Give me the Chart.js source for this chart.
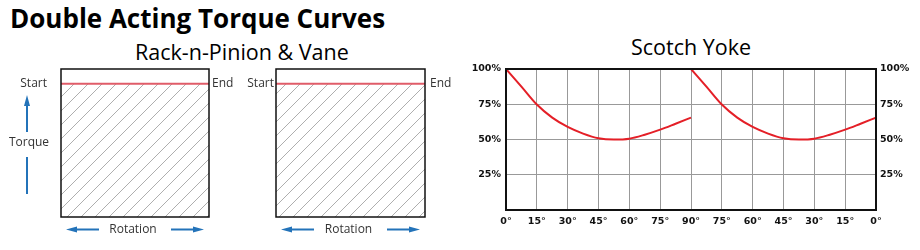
<!DOCTYPE html>
<html lang="en">
<head>
<meta charset="UTF-8">
<title>Double Acting Torque Curves</title>
<script src="https://cdn.jsdelivr.net/npm/chart.js"></script>
<style>
  body { margin: 0; width: 920px; height: 250px; position: relative; overflow: hidden; background: #fff; font-family: 'Open Sans', sans-serif; }
  .txt { position: absolute; white-space: nowrap; color: #000; line-height: 1; }
  canvas { position: absolute; }
</style>
</head>
<body>
<div class="txt" style="left:10px; top:5px; font-size:26px; font-weight:bold;">Double Acting Torque Curves</div>
<div class="txt" style="left:135px; top:41px; font-size:21.5px;">Rack-n-Pinion &amp; Vane</div>
<div class="txt" style="left:631px; top:36px; font-size:21.5px;">Scotch Yoke</div>

<canvas id="rack1" width="240" height="190" style="left:0; top:60px;"></canvas>
<canvas id="rack2" width="220" height="190" style="left:240px; top:60px;"></canvas>
<canvas id="yoke" width="460" height="220" style="left:460px; top:30px;"></canvas>

<script>
// Rack-n-Pinion & Vane: constant torque over the whole stroke
var rackRotation = [0, 100];
var rackTorque = [90, 90];
var startLabel = 'Start';
var endLabel = 'End';
var torqueLabel = 'Torque';
var rotationLabel = 'Rotation';

// Scotch Yoke: two strokes, torque in % of max
var strokeOneDeg = [0, 7.5, 15, 22.5, 30, 37.5, 45, 52.5, 60, 67.5, 75, 82.5, 90];
var strokeOneTorque = [100, 87.5, 74.8, 65.5, 58.9, 54.2, 50.9, 50, 50.6, 53.4, 57, 61.2, 65.5];
var strokeTwoDeg = [90, 97.5, 105, 112.5, 120, 127.5, 135, 142.5, 150, 157.5, 165, 172.5, 180];
var strokeTwoTorque = [100, 87.5, 74.8, 65.5, 58.9, 54.2, 50.9, 50, 50.6, 53.4, 57, 61.2, 65.5];
var degreeLabels = ['0°', '15°', '30°', '45°', '60°', '75°', '90°', '75°', '60°', '45°', '30°', '15°', '0°'];
var percentLabels = ['', '25%', '50%', '75%', '100%'];

Chart.defaults.font.family = "'Open Sans', sans-serif";

function hatch() {
    var c = document.createElement('canvas');
    c.width = 14; c.height = 14;
    var g = c.getContext('2d');
    g.strokeStyle = '#999';
    g.lineWidth = 0.8;
    g.beginPath();
    g.moveTo(-2, 16); g.lineTo(16, -2);
    g.stroke();
    return g.createPattern(c, 'repeat');
}

function arrow(ctx, x1, y1, x2, y2) {
    var ang = Math.atan2(y2 - y1, x2 - x1), len = 11, w = 3;
    ctx.beginPath();
    ctx.moveTo(x1, y1);
    ctx.lineTo(x2 - Math.cos(ang) * (len - 2), y2 - Math.sin(ang) * (len - 2));
    ctx.stroke();
    ctx.beginPath();
    ctx.moveTo(x2, y2);
    ctx.lineTo(x2 - Math.cos(ang) * len - Math.sin(ang) * w, y2 - Math.sin(ang) * len + Math.cos(ang) * w);
    ctx.lineTo(x2 - Math.cos(ang) * len + Math.sin(ang) * w, y2 - Math.sin(ang) * len - Math.cos(ang) * w);
    ctx.closePath();
    ctx.fill();
}

// box, Start/End labels, rotation arrows and torque arrow of a rack panel
var panelDecor = {
    id: 'panelDecor',
    afterDraw: function(chart, args, opts) {
        var ctx = chart.ctx, a = chart.chartArea;
        var yLevel = chart.scales.y.getPixelForValue(rackTorque[0]);
        ctx.save();
        ctx.strokeStyle = '#111';
        ctx.lineWidth = 1.5;
        ctx.strokeRect(a.left, a.top, a.right - a.left, a.bottom - a.top);

        ctx.fillStyle = '#333';
        ctx.font = "12px 'Open Sans'";
        ctx.textBaseline = 'middle';
        ctx.textAlign = 'right';
        ctx.fillText(startLabel, a.left - opts.startGap, yLevel);
        ctx.textAlign = 'left';
        ctx.fillText(endLabel, a.right + opts.endGap, yLevel);
        ctx.textAlign = 'center';
        var y = a.bottom + 12.5;
        ctx.fillText(rotationLabel, (a.left + a.right) / 2 - 2, y);

        ctx.strokeStyle = ctx.fillStyle = '#2373b9';
        ctx.lineWidth = 2;
        arrow(ctx, a.left + 38, y, a.left + 5, y);
        arrow(ctx, a.right - 38, y, a.right - 5, y);
        if (opts.torque) {
            var x = a.left - 34;
            arrow(ctx, x, a.top + 63, x, a.top + 26);
            ctx.beginPath();
            ctx.moveTo(x, a.top + 88); ctx.lineTo(x, a.top + 125);
            ctx.stroke();
            ctx.fillStyle = '#333';
            ctx.fillText(torqueLabel, x + 2, a.top + 74);
        }
        ctx.restore();
    }
};

function rackChart(id, padLeft, padRight, startGap, endGap, torque) {
    return new Chart(document.getElementById(id), {
        type: 'line',
        data: {
            datasets: [{
                data: rackRotation.map(function(r, i) { return { x: r, y: rackTorque[i] }; }),
                borderColor: '#e05c69',
                borderWidth: 2,
                pointRadius: 0,
                fill: 'origin',
                backgroundColor: hatch()
            }]
        },
        options: {
            responsive: false,
            animation: false,
            layout: { padding: { top: 9, left: padLeft, right: padRight, bottom: 33 } },
            plugins: {
                legend: { display: false }, tooltip: { enabled: false },
                panelDecor: { torque: torque, startGap: startGap, endGap: endGap }
            },
            scales: {
                x: { type: 'linear', min: 0, max: 100, display: false },
                y: { min: 0, max: 100, display: false }
            }
        },
        plugins: [panelDecor]
    });
}

rackChart('rack1', 61, 31, 14, 3, true);
rackChart('rack2', 36, 35, 2, 5, false);

var frame = {
    id: 'frame',
    afterDatasetsDraw: function(chart) {
        var ctx = chart.ctx, a = chart.chartArea;
        ctx.save();
        ctx.strokeStyle = '#111';
        ctx.lineWidth = 2;
        ctx.strokeRect(a.left, a.top, a.right - a.left, a.bottom - a.top);
        ctx.restore();
    }
};

var tickFont = { family: "'DejaVu Sans', Verdana, sans-serif", size: 9.5, weight: 'bold' };
var gridStyle = { color: '#999', lineWidth: 1, drawTicks: false };

new Chart(document.getElementById('yoke'), {
    type: 'line',
    data: {
        datasets: [{
            data: strokeOneDeg.map(function(d, i) { return { x: d, y: strokeOneTorque[i] }; }),
            borderColor: '#e41f27', borderWidth: 2, pointRadius: 0,
            cubicInterpolationMode: 'monotone', fill: false
        }, {
            data: strokeTwoDeg.map(function(d, i) { return { x: d, y: strokeTwoTorque[i] }; }),
            borderColor: '#e41f27', borderWidth: 2, pointRadius: 0,
            cubicInterpolationMode: 'monotone', fill: false
        }]
    },
    options: {
        responsive: false,
        animation: false,
        layout: { padding: { top: 39, left: 0, right: 0, bottom: 0 } },
        plugins: { legend: { display: false }, tooltip: { enabled: false } },
        scales: {
            x: {
                type: 'linear', min: 0, max: 180,
                ticks: { stepSize: 15, autoSkip: false, maxRotation: 0, padding: 6, color: '#111', font: tickFont,
                         callback: function(v, i) { return degreeLabels[i]; } },
                grid: gridStyle,
                border: { display: false },
                afterFit: function(s) { s.height = 40; }
            },
            y: {
                min: 0, max: 100,
                ticks: { stepSize: 25, padding: 5, color: '#111', font: tickFont,
                         callback: function(v, i) { return percentLabels[i]; } },
                grid: gridStyle,
                border: { display: false },
                afterFit: function(s) { s.width = 46; }
            },
            y1: {
                position: 'right', min: 0, max: 100,
                ticks: { stepSize: 25, padding: 4, color: '#111', font: tickFont,
                         callback: function(v, i) { return percentLabels[i]; } },
                grid: { display: false, drawTicks: false },
                border: { display: false },
                afterFit: function(s) { s.width = 44; }
            }
        }
    },
    plugins: [frame]
});
</script>
</body>
</html>
